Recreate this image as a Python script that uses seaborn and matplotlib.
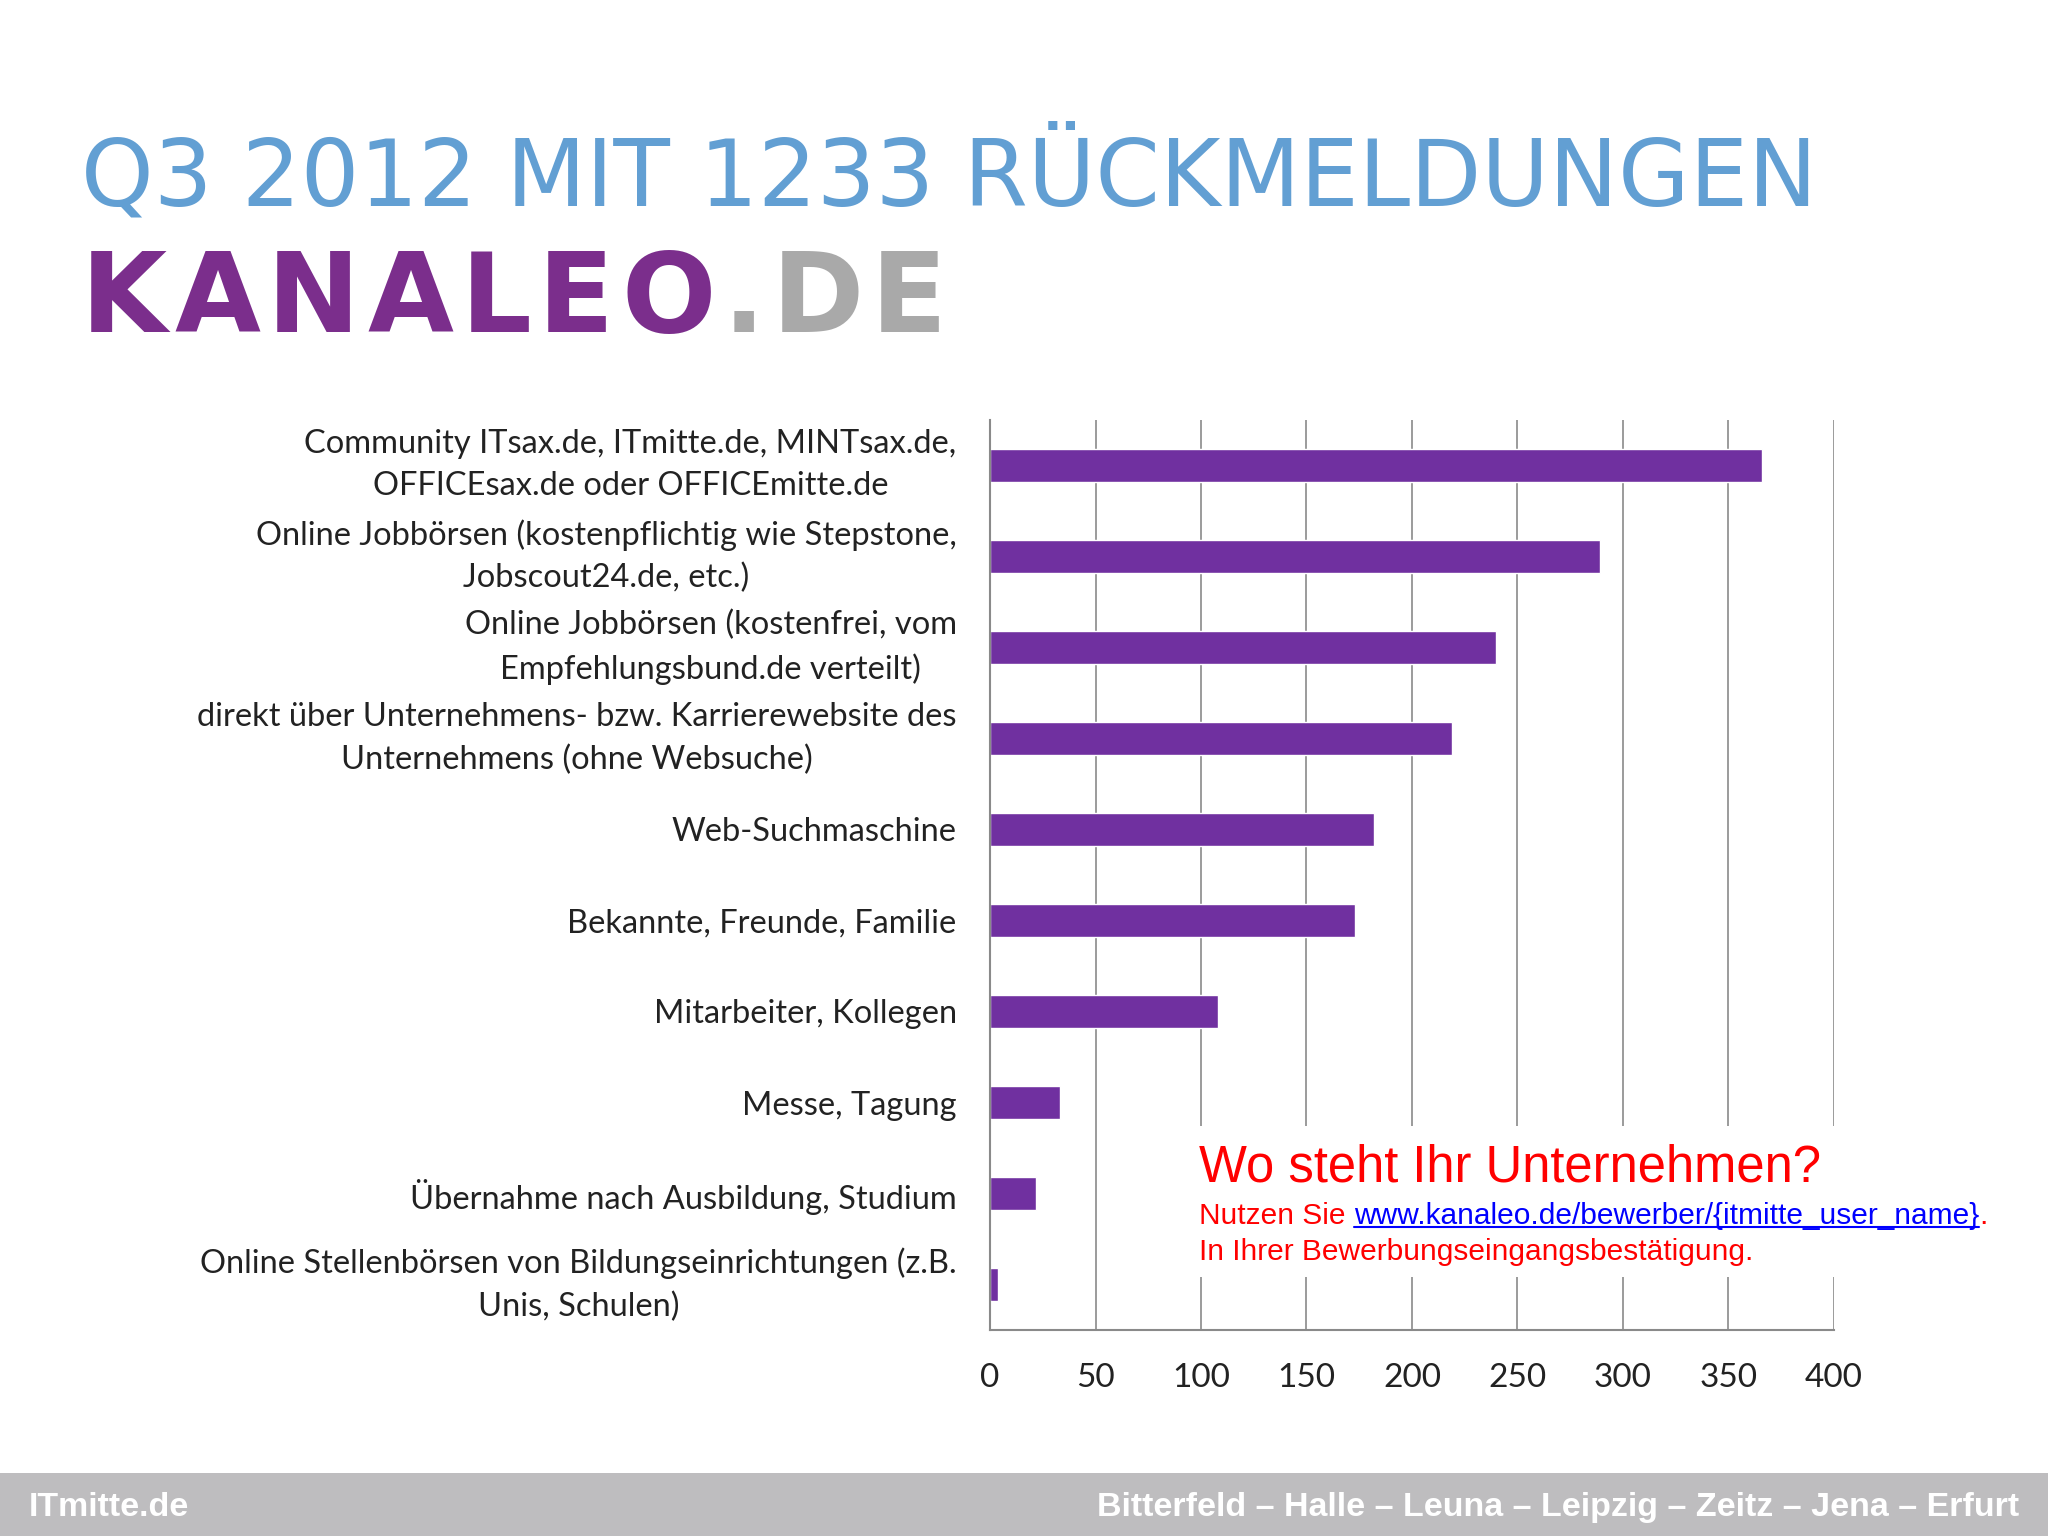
import pandas as pd
import matplotlib.pyplot as plt
import seaborn as sns
from matplotlib.patches import Rectangle
from matplotlib.lines import Line2D
from matplotlib.ticker import FixedLocator

# Data
categories = [
    "Community ITsax.de, ITmitte.de, MINTsax.de,\nOFFICEsax.de oder OFFICEmitte.de",
    "Online Jobbörsen (kostenpflichtig wie Stepstone,\nJobscout24.de, etc.)",
    "Online Jobbörsen (kostenfrei, vom\nEmpfehlungsbund.de verteilt)",
    "direkt über Unternehmens- bzw. Karrierewebsite des\nUnternehmens (ohne Websuche)",
    "Web-Suchmaschine",
    "Bekannte, Freunde, Familie",
    "Mitarbeiter, Kollegen",
    "Messe, Tagung",
    "Übernahme nach Ausbildung, Studium",
    "Online Stellenbörsen von Bildungseinrichtungen (z.B.\nUnis, Schulen)",
]
values = [366, 289, 240, 219, 182, 173, 108, 33, 22, 4]
x_ticks = [0, 50, 100, 150, 200, 250, 300, 350, 400]

title = "Q3 2012 MIT 1233 RÜCKMELDUNGEN"
footer_left = "ITmitte.de"
footer_right = "Bitterfeld – Halle – Leuna – Leipzig – Zeitz – Jena – Erfurt"

df = pd.DataFrame({"kanal": categories, "anzahl": values})

sns.set_style("white")
plt.rcParams['font.family'] = ['Lato', 'DejaVu Sans']

PURPLE = "#7030A0"
GRID = "#8A8A8A"

fig = plt.figure(figsize=(20.48, 15.36), dpi=100)
ax = fig.add_axes([0.4834, 0.1341, 0.4121, 0.5925])

sns.barplot(data=df, y="kanal", x="anzahl", color=PURPLE, width=0.37,
            saturation=1, orient="h", ax=ax)

ax.set_xlim(0, 400)
ax.set_ylim(len(categories) - 0.5, -0.5)
ax.set_xlabel("")
ax.set_ylabel("")
ax.xaxis.set_major_locator(FixedLocator(x_ticks))
ax.set_xticklabels([str(t) for t in x_ticks])
ax.grid(axis="x", color=GRID, linewidth=1.2)
ax.grid(axis="y", visible=False)
ax.set_axisbelow(True)

for side in ["top", "right"]:
    ax.spines[side].set_visible(False)
for side in ["left", "bottom"]:
    ax.spines[side].set_color(GRID)
    ax.spines[side].set_linewidth(1.5)

ax.tick_params(axis="x", which="major", direction="out", length=7, width=1.2,
               color=GRID, labelsize=24, pad=17, labelcolor="#222222")
ax.tick_params(axis="y", which="major", length=0, labelsize=23.5, pad=24,
               labelcolor="#222222")
ax.yaxis.set_minor_locator(FixedLocator([i - 0.5 for i in range(len(categories) + 1)]))
ax.tick_params(axis="y", which="minor", direction="out", length=6, width=1.2,
               color=GRID)
for lab in ax.get_yticklabels():
    lab.set_multialignment("center")
    lab.set_linespacing(1.5)
    if "\n" in lab.get_text():
        lab.set_verticalalignment("center")

# Title and logo
fig.text(0.0396, 0.8659, title, color="#629FD3", fontsize=66.5,
         family="DejaVu Sans", va="baseline", ha="left")

fig.canvas.draw()
renderer = fig.canvas.get_renderer()
inv = fig.transFigure.inverted()

# logo letters, spaced out a little
x = 0.0396
for i, ch in enumerate("KANALEO.DE"):
    col = "#7B2E8C" if i < 7 else "#A9A9A9"
    t = fig.text(x, 0.7839, ch, color=col, fontsize=80, family="DejaVu Sans",
                 fontweight="bold", va="baseline")
    fig.canvas.draw()
    bb = t.get_window_extent(renderer).transformed(inv)
    x = bb.x1 + 7 / 2048

# Annotation box covering the grid
ax.add_patch(Rectangle((0.577, 0.1686), 0.397, 0.0983, transform=fig.transFigure,
                       facecolor="white", edgecolor="none", zorder=2, clip_on=False))

ann_font = ['Liberation Sans', 'DejaVu Sans']
fig.text(0.5854, 0.2305, "Wo steht Ihr Unternehmen?", color="#FF0000",
         fontsize=36.5, family=ann_font, va="baseline", zorder=5)

t1 = fig.text(0.5854, 0.2031, "Nutzen Sie ", color="#FF0000", fontsize=21.5,
              family=ann_font, va="baseline", zorder=5)
fig.canvas.draw()
b1 = t1.get_window_extent(renderer).transformed(inv)
url = fig.text(b1.x1, 0.2031, "www.kanaleo.de/bewerber/{itmitte_user_name}",
               color="#0000FF", fontsize=21.5, family=ann_font, va="baseline", zorder=5)
fig.canvas.draw()
b2 = url.get_window_extent(renderer).transformed(inv)
fig.text(b2.x1, 0.2031, ".", color="#FF0000", fontsize=21.5, family=ann_font,
         va="baseline", zorder=5)
fig.add_artist(Line2D([b2.x0, b2.x1], [0.2031 - 3 / 1536, 0.2031 - 3 / 1536],
                      color="#0000FF", linewidth=1.5, transform=fig.transFigure))
fig.text(0.5854, 0.1797, "In Ihrer Bewerbungseingangsbestätigung.", color="#FF0000",
         fontsize=21.5, family=ann_font, va="baseline", zorder=5)

# Footer band
fig.add_artist(Rectangle((0, 0), 1, 0.041, transform=fig.transFigure,
                         facecolor="#BEBDBF", edgecolor="none"))
fig.text(0.014, 0.0185, footer_left, color="white", fontsize=24.5,
         family=ann_font, fontweight="bold", va="center", ha="left")
fig.text(0.986, 0.0185, footer_right, color="white", fontsize=24.5,
         family=ann_font, fontweight="bold", va="center", ha="right")

fig.savefig("out.png", dpi=100)
